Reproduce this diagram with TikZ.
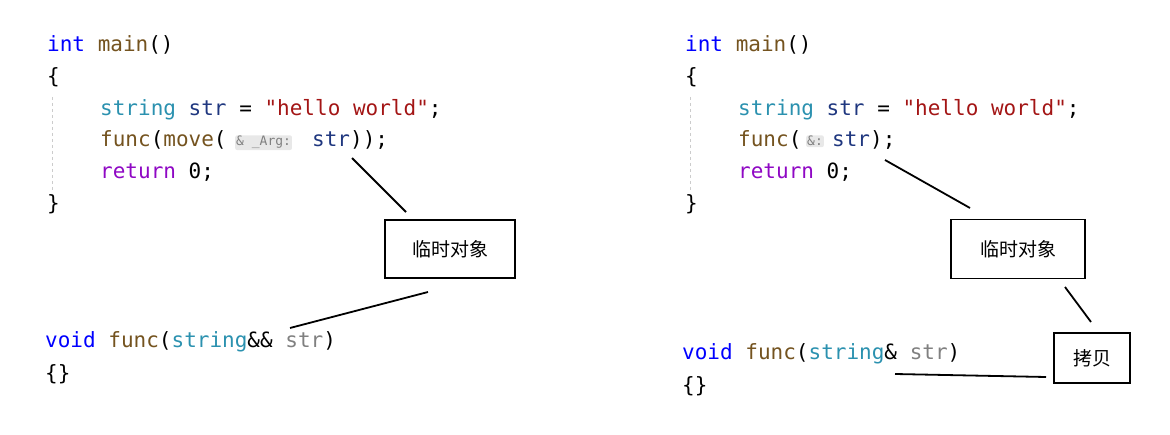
\documentclass[tikz,border=0pt]{standalone}
\usepackage{fontspec}
\setmonofont{DejaVu Sans Mono}
\newfontfamily\cjk{Noto Sans CJK SC}
\begin{document}
\begin{tikzpicture}[x=1pt,y=-1pt,
  code/.style={anchor=base west,inner sep=0pt,font=\ttfamily\fontsize{21}{21}\selectfont},
  box/.style={draw,line width=1.8pt,inner sep=0pt,font=\cjk\fontsize{19}{19}\selectfont},
  lk/.style={line width=1.8pt},
  hint/.style={fill=gray!18,rounded corners=2pt,inner sep=1pt,text=gray,font=\ttfamily\fontsize{13}{13}\selectfont,anchor=base west},
  guide/.style={draw=gray!40,dashed,line width=1pt}]
\definecolor{kw}{RGB}{0,0,255}
\definecolor{fn}{RGB}{116,83,31}
\definecolor{ty}{RGB}{43,145,175}
\definecolor{vr}{RGB}{31,55,127}
\definecolor{st}{RGB}{163,21,21}
\definecolor{rt}{RGB}{143,8,196}
\definecolor{pm}{RGB}{128,128,128}
\useasboundingbox (0,0) rectangle (1170,435);
% left
\node[code] (l1) at (47,52) {\textcolor{kw}{int} \textcolor{fn}{main}()};
\node[code] (l2) at (47,84) {\{};
\node[code] (l3) at (100,116) {\textcolor{ty}{string} \textcolor{vr}{str} = \textcolor{st}{"hello world"};};
\node[code] (l4a) at (100,147) {\textcolor{fn}{func}(\textcolor{fn}{move}(};
\node[hint] (l4h) at (235,146) {\& \_Arg:};
\node[code] (l4b) at (312,147) {\textcolor{vr}{str}));};
\node[code] (l5) at (100,179) {\textcolor{rt}{return} 0;};
\node[code] (l6) at (47,211) {\}};
\draw[guide] (52,97) coordinate (g1) -- (52,192) coordinate (g2);
\node[code] (l7) at (45,348) {\textcolor{kw}{void} \textcolor{fn}{func}(\textcolor{ty}{string}\&\& \textcolor{pm}{str})};
\node[code] (l8) at (45,381) {\{\}};
\node[box,minimum width=130pt,minimum height=58pt] (b1) at (450,249) {临时对象};
\coordinate (p1) at (352,158);
\coordinate (p2) at (406,212);
\coordinate (p3) at (428,292);
\coordinate (p4) at (290,328);
\draw[lk] (p1) -- (p2);
\draw[lk] (p3) -- (p4);
% right
\node[code] (r1) at (685,52) {\textcolor{kw}{int} \textcolor{fn}{main}()};
\node[code] (r2) at (685,84) {\{};
\node[code] (r3) at (738,116) {\textcolor{ty}{string} \textcolor{vr}{str} = \textcolor{st}{"hello world"};};
\node[code] (r4a) at (738,147) {\textcolor{fn}{func}(};
\node[hint] (r4h) at (806,146) {\&:};
\node[code] (r4b) at (832,147) {\textcolor{vr}{str});};
\node[code] (r5) at (738,179) {\textcolor{rt}{return} 0;};
\node[code] (r6) at (685,211) {\}};
\draw[guide] (690,97) coordinate (g3) -- (690,192) coordinate (g4);
\node[code] (r7) at (682,360) {\textcolor{kw}{void} \textcolor{fn}{func}(\textcolor{ty}{string}\& \textcolor{pm}{str})};
\node[code] (r8) at (682,393) {\{\}};
\node[box,minimum width=134pt,minimum height=59pt] (b2) at (1018,249) {临时对象};
\node[box,minimum width=76pt,minimum height=50pt] (b3) at (1092,358) {拷贝};
\coordinate (q1) at (885,160);
\coordinate (q2) at (970,208);
\coordinate (q3) at (1065,287);
\coordinate (q4) at (1091,322);
\coordinate (q5) at (895,374);
\coordinate (q6) at (1046,377);
\draw[lk] (q1) -- (q2);
\draw[lk] (q3) -- (q4);
\draw[lk] (q5) -- (q6);
\end{tikzpicture}
\end{document}
